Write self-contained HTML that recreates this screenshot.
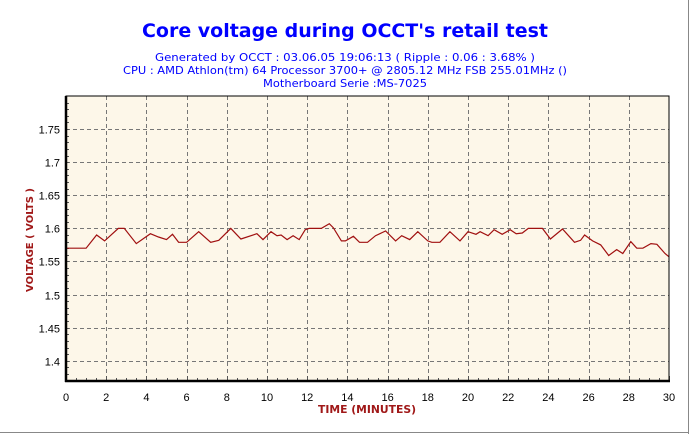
<!DOCTYPE html>
<html><head><meta charset="utf-8"><style>
html,body{margin:0;padding:0;background:#fff}
svg{display:block;font-family:"DejaVu Sans","Liberation Sans",sans-serif}
</style></head><body>
<svg id="chart" width="690" height="435" viewBox="0 0 690 435">
<rect x="0" y="0" width="690" height="435" fill="#fff"/>
<line x1="688.5" y1="0" x2="688.5" y2="434" stroke="#888" stroke-width="1"/>
<line x1="0" y1="432.5" x2="689" y2="432.5" stroke="#888" stroke-width="1"/>
<text x="345" y="37" text-anchor="middle" font-size="19" font-weight="bold" fill="#0000ff" textLength="406" lengthAdjust="spacingAndGlyphs">Core voltage during OCCT's retail test</text>
<text x="345" y="61" text-anchor="middle" font-size="11" fill="#0000ff" textLength="380" lengthAdjust="spacingAndGlyphs">Generated by OCCT : 03.06.05 19:06:13 ( Ripple : 0.06 : 3.68% )</text>
<text x="345" y="74" text-anchor="middle" font-size="11" fill="#0000ff" textLength="444" lengthAdjust="spacingAndGlyphs">CPU : AMD Athlon(tm) 64 Processor 3700+ @ 2805.12 MHz FSB 255.01MHz ()</text>
<text x="345" y="87" text-anchor="middle" font-size="11" fill="#0000ff" textLength="164" lengthAdjust="spacingAndGlyphs">Motherboard Serie :MS-7025</text>
<rect x="66" y="96" width="603" height="285" fill="#fdf7e9"/>
<g id="grid"></g>
<g id="axes"></g>
<polyline id="series" fill="none" stroke="#a01010" stroke-width="1.2"/>
<rect x="66" y="96" width="603" height="285" fill="none" stroke="#000" stroke-width="1"/>
<line x1="66" y1="96" x2="66" y2="382" stroke="#000" stroke-width="2.5"/>
<line x1="65" y1="381" x2="670" y2="381" stroke="#000" stroke-width="2.5"/>
<text transform="translate(33,240) rotate(-90)" text-anchor="middle" font-size="10" font-weight="bold" fill="#a01818" textLength="104" lengthAdjust="spacingAndGlyphs">VOLTAGE ( VOLTS )</text>
<text x="367" y="413" text-anchor="middle" font-size="11" font-weight="bold" fill="#a01818" textLength="98" lengthAdjust="spacingAndGlyphs">TIME (MINUTES)</text>
</svg>
<script>
const times=[0,1.0,1.52,1.92,2.6,2.9,3.5,4.2,4.6,5.0,5.3,5.6,6.0,6.6,7.2,7.6,8.2,8.7,9.5,9.8,10.2,10.5,10.7,11.0,11.3,11.6,11.9,12.1,12.7,13.1,13.3,13.7,13.9,14.3,14.6,15.0,15.4,15.9,16.4,16.7,17.1,17.5,18.0,18.2,18.6,19.1,19.6,20.0,20.4,20.6,21.0,21.3,21.7,22.1,22.4,22.7,23.0,23.7,24.1,24.7,25.3,25.6,25.8,26.2,26.6,27.0,27.4,27.7,28.1,28.4,28.7,29.1,29.4,29.8,30];
const volts=[1.57,1.57,1.59,1.581,1.6,1.6,1.577,1.592,1.587,1.583,1.591,1.579,1.579,1.595,1.579,1.582,1.6,1.584,1.592,1.583,1.595,1.589,1.59,1.583,1.589,1.583,1.598,1.6,1.6,1.607,1.601,1.581,1.581,1.588,1.579,1.579,1.589,1.596,1.581,1.589,1.583,1.595,1.581,1.579,1.579,1.595,1.581,1.595,1.591,1.595,1.589,1.598,1.591,1.598,1.592,1.593,1.6,1.6,1.584,1.599,1.579,1.582,1.59,1.581,1.575,1.559,1.568,1.562,1.58,1.57,1.57,1.577,1.576,1.562,1.557];
const xTicks=[0,2,4,6,8,10,12,14,16,18,20,22,24,26,28,30];
const yTicks=[1.4,1.45,1.5,1.55,1.6,1.65,1.7,1.75];
const yLabels=["1.4","1.45","1.5","1.55","1.6","1.65","1.7","1.75"];
const X0=66,X1=669,Y0=381,Y1=96,xMin=0,xMax=30,yMin=1.3694,yMax=1.8;
function sx(t){return X0+(t-xMin)/(xMax-xMin)*(X1-X0);}
function sy(v){return Y0-(v-yMin)/(yMax-yMin)*(Y0-Y1);}
const NS="http://www.w3.org/2000/svg";
const grid=document.getElementById('grid'),axes=document.getElementById('axes');
function mk(tag,attrs,parent){const e=document.createElementNS(NS,tag);for(const k in attrs)e.setAttribute(k,attrs[k]);parent.appendChild(e);return e;}
xTicks.forEach(t=>{
  const x=Math.round(sx(t))+0.5;
  if(t>0&&t<30){const g=mk('line',{x1:x,y1:Y1,x2:x,y2:Y0,stroke:'#777','stroke-dasharray':'4,3'},grid);
  
  }
  const l=mk('text',{x:sx(t),y:401,'text-anchor':'middle','font-size':'11',fill:'#000','font-family':'Liberation Sans, sans-serif'},axes);
  
  
  l.textContent=t;
});
for(let t=0;t<=30;t+=0.5){const x=Math.round(sx(t))+0.5;mk('line',{x1:x,y1:Y0,x2:x,y2:Y0-(t%2===0?5:3),stroke:'#555'},axes);}
yTicks.forEach((v,i)=>{
  const y=Math.round(sy(v))+0.5;
  const g=mk('line',{x1:X0,y1:y,x2:X1,y2:y,stroke:'#777','stroke-dasharray':'4,3'},grid);
  
  
  const l=mk('text',{x:60,y:y+4,'text-anchor':'end','font-size':'11',fill:'#000','font-family':'Liberation Sans, sans-serif'},axes);
  
  
  l.textContent=yLabels[i];
});
for(let v=1.37;v<=1.8;v+=0.01){const y=Math.round(sy(v))+0.5;mk('line',{x1:X0,y1:y,x2:X0+3,y2:y,stroke:'#555'},axes);}
document.getElementById('series').setAttribute('points',times.map((t,i)=>sx(t).toFixed(1)+','+sy(volts[i]).toFixed(1)).join(' '));
</script>
</body></html>
